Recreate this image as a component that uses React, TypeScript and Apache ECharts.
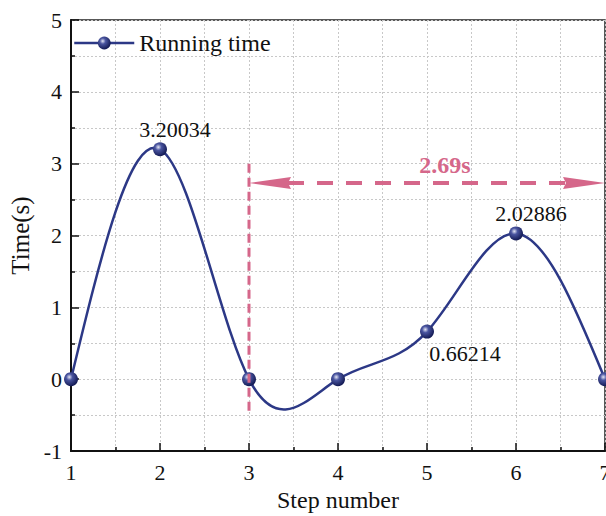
import React, { useEffect, useRef } from "react";
import * as echarts from "echarts";

const stepNumbers = [1, 2, 3, 4, 5, 6, 7];
const runningTimes = [0, 3.20034, 0, 0, 0.66214, 2.02886, 0];
const labelledPoints = [1, 4, 5]; // indexes with value labels
const xTicks = { min: 1, max: 7, interval: 1 };
const yTicks = { min: -1, max: 5, interval: 1 };
const spanStart = 3;
const spanEnd = 7;
const spanLevel = 2.73;
const spanMarkerTop = 3.0;
const spanMarkerBottom = -0.45;
const spanText = "2.69s";
const spanTextPos = [5.2, 2.98];

const FONT = "Liberation Serif";
const NAVY = "#2c3886";
const PINK = "#d5678a";

// natural cubic spline second derivatives (rendering helper)
function splineM(x: number[], y: number[]) {
  const n = x.length;
  const M = new Array(n).fill(0);
  if (n < 3) return M;
  const h: number[] = [];
  for (let i = 0; i < n - 1; i++) h.push(x[i + 1] - x[i]);
  const a: number[] = [], b: number[] = [], c: number[] = [], d: number[] = [];
  for (let i = 1; i < n - 1; i++) {
    a.push(h[i - 1]);
    b.push(2 * (h[i - 1] + h[i]));
    c.push(h[i]);
    d.push(6 * ((y[i + 1] - y[i]) / h[i] - (y[i] - y[i - 1]) / h[i - 1]));
  }
  const m = b.length;
  const cp = new Array(m).fill(0), dp = new Array(m).fill(0);
  cp[0] = c[0] / b[0];
  dp[0] = d[0] / b[0];
  for (let i = 1; i < m; i++) {
    const den = b[i] - a[i] * cp[i - 1];
    cp[i] = c[i] / den;
    dp[i] = (d[i] - a[i] * dp[i - 1]) / den;
  }
  const sol = new Array(m).fill(0);
  sol[m - 1] = dp[m - 1];
  for (let i = m - 2; i >= 0; i--) sol[i] = dp[i] - cp[i] * sol[i + 1];
  for (let i = 0; i < m; i++) M[i + 1] = sol[i];
  return M;
}

export default function App() {
  const ref = useRef<HTMLDivElement>(null);
  useEffect(() => {
    if (!ref.current) return;
    const chart = echarts.init(ref.current, null, { renderer: "svg", width: 606, height: 516 });
    const pts = stepNumbers.map((x, i) => [x, runningTimes[i]]);
    const M = splineM(stepNumbers, runningTimes);

    const markerColor = new echarts.graphic.RadialGradient(0.38, 0.35, 0.65, [
      { offset: 0, color: "#e4e6f5" },
      { offset: 0.35, color: "#4a55a0" },
      { offset: 1, color: "#141b55" },
    ]);

    const axisLabelStyle = { fontFamily: FONT, fontSize: 22, color: "#111" };
    const gridLine = { show: true, lineStyle: { color: "#c8c8c8", type: [2, 2], width: 1 } };

    chart.setOption({
      animation: false,
      grid: {
        left: 71,
        top: 20,
        right: 1,
        bottom: 65,
        containLabel: false,
        outerBoundsMode: "none",
        show: true,
        borderColor: "#222",
        borderWidth: 1.5,
      },
      legend: {
        left: 68,
        top: 26,
        itemWidth: 60,
        itemHeight: 16,
        data: ["Running time"],
        textStyle: { fontFamily: FONT, fontSize: 24, color: "#111" },
        lineStyle: { color: NAVY, width: 2.5, opacity: 1 },
      },
      xAxis: {
        type: "value",
        min: xTicks.min,
        max: xTicks.max,
        interval: xTicks.interval,
        name: "Step number",
        nameLocation: "middle",
        nameGap: 33,
        nameTextStyle: { fontFamily: FONT, fontSize: 24, color: "#111" },
        axisLine: { show: true, onZero: false, lineStyle: { color: "#111", width: 2 } },
        axisTick: { show: true, inside: true, length: 8, lineStyle: { color: "#111", width: 1.5 } },
        minorTick: { show: true, splitNumber: 2, length: 4, lineStyle: { color: "#111", width: 1.5 } },
        axisLabel: { ...axisLabelStyle, margin: 10 },
        splitLine: gridLine,
        minorSplitLine: gridLine,
      },
      yAxis: {
        type: "value",
        min: yTicks.min,
        max: yTicks.max,
        interval: yTicks.interval,
        name: "Time(s)",
        nameLocation: "middle",
        nameGap: 34,
        nameTextStyle: { fontFamily: FONT, fontSize: 25, color: "#111" },
        axisLine: { show: true, onZero: false, lineStyle: { color: "#111", width: 2 } },
        axisTick: { show: true, inside: true, length: 8, lineStyle: { color: "#111", width: 1.5 } },
        minorTick: { show: true, splitNumber: 2, length: 4, lineStyle: { color: "#111", width: 1.5 } },
        axisLabel: { ...axisLabelStyle, margin: 9 },
        splitLine: gridLine,
        minorSplitLine: gridLine,
      },
      series: [
        {
          type: "custom",
          name: "spline",
          silent: true,
          z: 2,
          data: pts,
          encode: { x: 0, y: 1 },
          renderItem: (params: any, api: any) => {
            const i = params.dataIndex;
            if (i >= stepNumbers.length - 1) return null;
            const x0 = stepNumbers[i], x1 = stepNumbers[i + 1];
            const y0 = runningTimes[i], y1 = runningTimes[i + 1];
            const h = x1 - x0;
            const d0 = (y1 - y0) / h - (h * (2 * M[i] + M[i + 1])) / 6;
            const d1 = (y1 - y0) / h + (h * (M[i] + 2 * M[i + 1])) / 6;
            const p0 = api.coord([x0, y0]);
            const p1 = api.coord([x1, y1]);
            const c0 = api.coord([x0 + h / 3, y0 + (d0 * h) / 3]);
            const c1 = api.coord([x1 - h / 3, y1 - (d1 * h) / 3]);
            return {
              type: "bezierCurve",
              shape: {
                x1: p0[0], y1: p0[1], x2: p1[0], y2: p1[1],
                cpx1: c0[0], cpy1: c0[1], cpx2: c1[0], cpy2: c1[1],
              },
              style: { stroke: NAVY, lineWidth: 2.5, fill: "none" },
            };
          },
        },
        {
          type: "custom",
          name: "span",
          silent: true,
          z: 4,
          data: [[spanStart, spanLevel]],
          encode: { x: 0, y: 1 },
          renderItem: (params: any, api: any) => {
            const vTop = api.coord([spanStart, spanMarkerTop]);
            const vBot = api.coord([spanStart, spanMarkerBottom]);
            const a = api.coord([spanStart, spanLevel]);
            const b = api.coord([spanEnd, spanLevel]);
            const t = api.coord(spanTextPos);
            const L = 42, W = 6, N = 39;
            return {
              type: "group",
              children: [
                {
                  type: "line",
                  shape: { x1: vTop[0], y1: vTop[1], x2: vBot[0], y2: vBot[1] },
                  style: { stroke: PINK, lineWidth: 3, lineDash: [9, 5] },
                },
                {
                  type: "line",
                  shape: { x1: a[0] + N, y1: a[1], x2: b[0] - N, y2: b[1] },
                  style: { stroke: PINK, lineWidth: 4, lineDash: [16, 13] },
                },
                {
                  type: "polygon",
                  shape: {
                    points: [
                      [a[0], a[1]],
                      [a[0] + L, a[1] - W],
                      [a[0] + N, a[1]],
                      [a[0] + L, a[1] + W],
                    ],
                  },
                  style: { fill: PINK },
                },
                {
                  type: "polygon",
                  shape: {
                    points: [
                      [b[0], b[1]],
                      [b[0] - L, b[1] - W],
                      [b[0] - N, b[1]],
                      [b[0] - L, b[1] + W],
                    ],
                  },
                  style: { fill: PINK },
                },
                {
                  type: "text",
                  x: t[0],
                  y: t[1],
                  style: {
                    text: spanText,
                    align: "center",
                    verticalAlign: "middle",
                    fontFamily: FONT,
                    fontSize: 24,
                    fontWeight: "bold",
                    fill: PINK,
                  },
                },
              ],
            };
          },
        },
        {
          type: "line",
          name: "Running time",
          z: 3,
          data: pts.map((p, i) =>
            labelledPoints.includes(i)
              ? {
                  value: p,
                  label:
                    i === 4
                      ? { show: true, position: "bottom", distance: 4, offset: [38, 0] }
                      : { show: true, position: "top", distance: 2, offset: [15, 0] },
                }
              : { value: p }
          ),
          symbol: "circle",
          symbolSize: 14,
          showSymbol: true,
          itemStyle: { color: markerColor },
          lineStyle: { opacity: 0, width: 0 },
          label: {
            show: false,
            fontFamily: FONT,
            fontSize: 22,
            color: "#111",
            formatter: (p: any) => String(p.value[1]),
          },
        },
      ],
    });
    return () => chart.dispose();
  }, []);
  return (
    <div
      ref={ref}
      style={{ position: "fixed", left: 0, top: 0, width: 606, height: 516, background: "#fff" }}
    />
  );
}
